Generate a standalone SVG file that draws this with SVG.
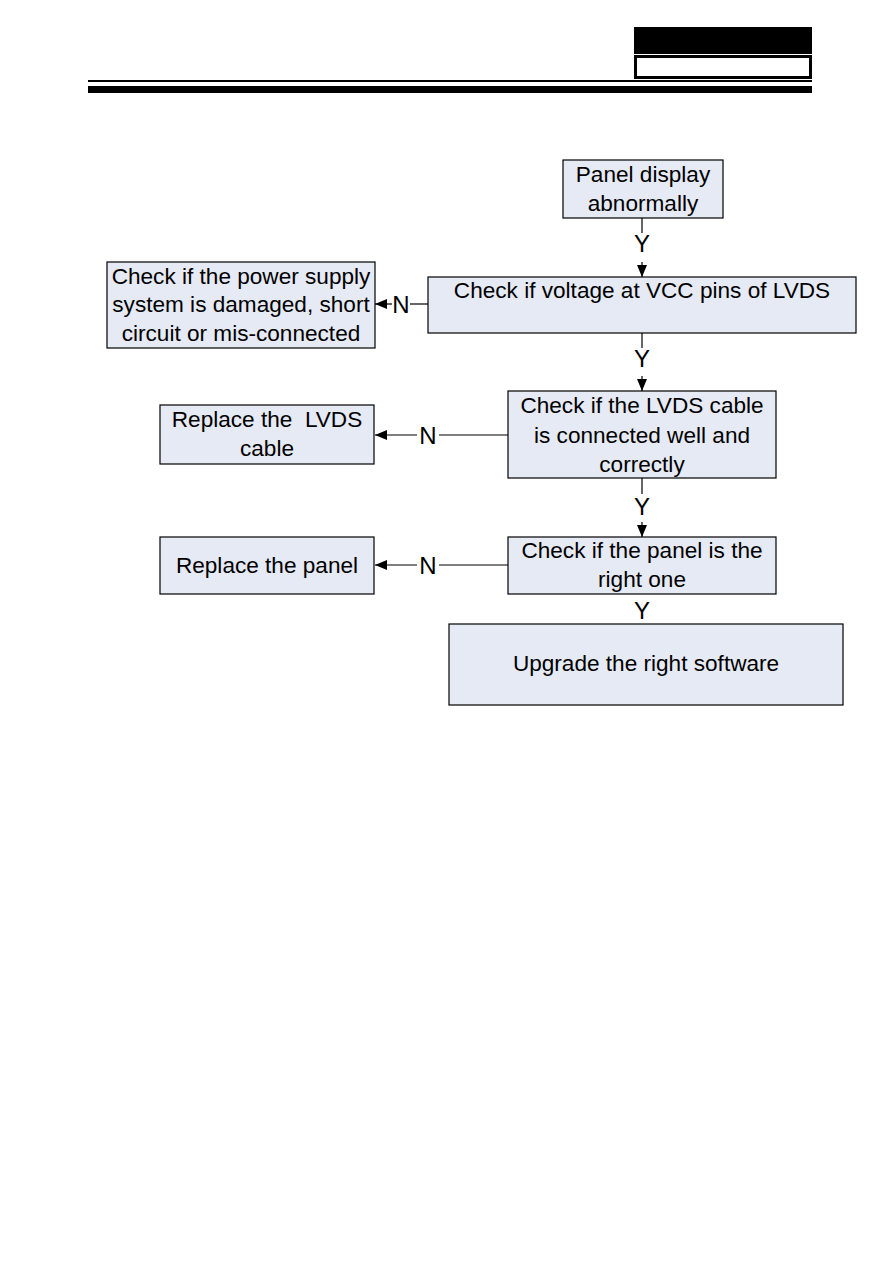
<svg xmlns="http://www.w3.org/2000/svg" width="893" height="1263" viewBox="0 0 893 1263">
<style>
.box{fill:#e6eaf4;stroke:#000;stroke-width:1.2}
.t{font-family:"Liberation Sans",Arial,sans-serif;font-size:22.6px;fill:#000;text-anchor:middle}
.l{font-size:24px}
.c{stroke:#000;stroke-width:1.2;fill:none}
</style>
<defs>
<marker id="ah" markerWidth="12" markerHeight="10" refX="12" refY="5" orient="auto" markerUnits="userSpaceOnUse">
<path d="M0,0 L12,5 L0,10 Z" fill="#000"/>
</marker>
</defs>
<g id="header">
<rect x="634" y="27" width="178" height="27" fill="#000"/>
<rect x="635.5" y="56.5" width="175" height="21" fill="#fff" stroke="#000" stroke-width="3"/>
<rect x="88" y="80" width="724" height="2" fill="#000"/>
<rect x="88" y="86" width="724" height="7" fill="#000"/>
</g>
<g id="connectors">
<line class="c" x1="642" y1="218" x2="642" y2="233"/>
<line class="c" x1="642" y1="262" x2="642" y2="277" marker-end="url(#ah)"/>
<text class="t l" x="642" y="252">Y</text>
<line class="c" x1="642" y1="333" x2="642" y2="348"/>
<line class="c" x1="642" y1="376" x2="642" y2="391" marker-end="url(#ah)"/>
<text class="t l" x="642" y="367">Y</text>
<line class="c" x1="642" y1="478" x2="642" y2="494"/>
<line class="c" x1="642" y1="522" x2="642" y2="537" marker-end="url(#ah)"/>
<text class="t l" x="642" y="515">Y</text>
<text class="t l" x="642" y="619">Y</text>
<line class="c" x1="428" y1="304" x2="410" y2="304"/>
<line class="c" x1="392" y1="304" x2="375" y2="304" marker-end="url(#ah)"/>
<text class="t l" x="401" y="313">N</text>
<line class="c" x1="508" y1="435" x2="439" y2="435"/>
<line class="c" x1="417" y1="435" x2="375" y2="435" marker-end="url(#ah)"/>
<text class="t l" x="428" y="444">N</text>
<line class="c" x1="508" y1="565" x2="439" y2="565"/>
<line class="c" x1="417" y1="565" x2="375" y2="565" marker-end="url(#ah)"/>
<text class="t l" x="428" y="574">N</text>
</g>
<g id="n1">
<rect class="box" x="563" y="160" width="160" height="58"/>
<text class="t" x="643" y="182">Panel display</text>
<text class="t" x="643" y="211">abnormally</text>
</g>
<g id="n2">
<rect class="box" x="428" y="277" width="428" height="56"/>
<text class="t" x="642" y="298">Check if voltage at VCC pins of LVDS</text>
</g>
<g id="n3">
<rect class="box" x="107" y="262" width="268" height="86"/>
<text class="t" x="241" y="284">Check if the power supply</text>
<text class="t" x="241" y="312">system is damaged, short</text>
<text class="t" x="241" y="341">circuit or mis-connected</text>
</g>
<g id="n4">
<rect class="box" x="508" y="391" width="268" height="87"/>
<text class="t" x="642" y="413">Check if the LVDS cable</text>
<text class="t" x="642" y="443">is connected well and</text>
<text class="t" x="642" y="472">correctly</text>
</g>
<g id="n5">
<rect class="box" x="160" y="405" width="214" height="59"/>
<text class="t" x="267" y="427" xml:space="preserve">Replace the  LVDS</text>
<text class="t" x="267" y="456">cable</text>
</g>
<g id="n6">
<rect class="box" x="508" y="537" width="268" height="57"/>
<text class="t" x="642" y="558">Check if the panel is the</text>
<text class="t" x="642" y="587">right one</text>
</g>
<g id="n7">
<rect class="box" x="160" y="537" width="214" height="57"/>
<text class="t" x="267" y="573">Replace the panel</text>
</g>
<g id="n8">
<rect class="box" x="449" y="624" width="394" height="81"/>
<text class="t" x="646" y="671">Upgrade the right software</text>
</g>
</svg>
